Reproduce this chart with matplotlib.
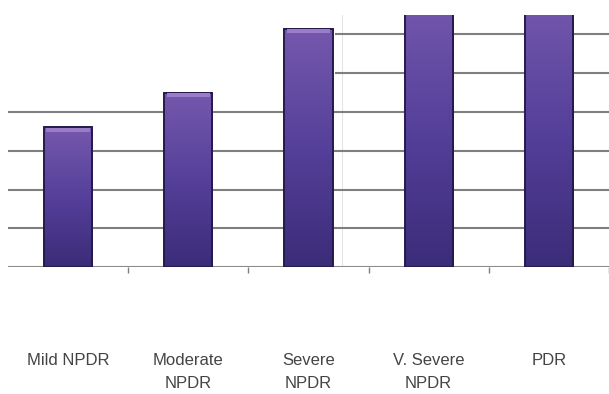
import numpy as np
import matplotlib.pyplot as plt
from matplotlib.colors import LinearSegmentedColormap

categories = ['Mild NPDR', 'Moderate\nNPDR', 'Severe\nNPDR', 'V. Severe\nNPDR', 'PDR']
values = [3.6, 4.5, 6.15, 7.0, 7.0]

plt.rcParams['font.family'] = ['Liberation Sans', 'DejaVu Sans']

fig = plt.figure(figsize=(6.09, 3.94), dpi=100)
ax = fig.add_axes([0.013, 0.322, 0.987, 0.64])

x = np.arange(len(categories))
ymax = 6.5
ax.set_xlim(-0.5, 4.5)
ax.set_ylim(0, ymax)

# grid lines, the upper two only show on the right part of the scan
for lvl in [1, 2, 3, 4]:
    ax.axhline(lvl, color='#7f7f7f', lw=1.5, zorder=1)
for lvl in [5, 6]:
    ax.hlines(lvl, 2.22, 4.5, color='#7f7f7f', lw=1.5, zorder=1)
ax.axhline(0, color='#8a8a8a', lw=1.5, zorder=1)
ax.axvline(2.28, color='#e4e4e4', lw=0.8, zorder=0)

# bars with a vertical purple gradient
cmap = LinearSegmentedColormap.from_list('bar', ['#3b2c78', '#55409a', '#7558ad'])
grad = np.linspace(0, 1, 256).reshape(-1, 1)
w = 0.4
bars = ax.bar(x, values, width=w, color='none', edgecolor='#251a4e', lw=1.4, zorder=3)
for b, v in zip(bars, values):
    x0 = b.get_x()
    ax.imshow(grad, extent=[x0, x0 + w, 0, v], origin='lower', cmap=cmap,
              aspect='auto', zorder=2, clip_on=True)
    if v < ymax:
        # light bevel on the bar top
        ax.fill_between([x0 + 0.02, x0 + w - 0.02], v - 0.12, v - 0.02,
                        color='#9a7cc8', zorder=3, lw=0)

ax.set_xticks(x)
ax.set_xticklabels(categories, fontsize=12, color='#444444',
                   multialignment='center', linespacing=1.65)
ax.set_xticks(np.arange(0.5, 5, 1), minor=True)
ax.tick_params(axis='x', which='major', length=0, pad=62)
ax.tick_params(axis='x', which='minor', length=4, color='#7f7f7f', width=1)
ax.set_yticks([])

for s in ax.spines.values():
    s.set_visible(False)

fig.savefig('out.png', dpi=100)
